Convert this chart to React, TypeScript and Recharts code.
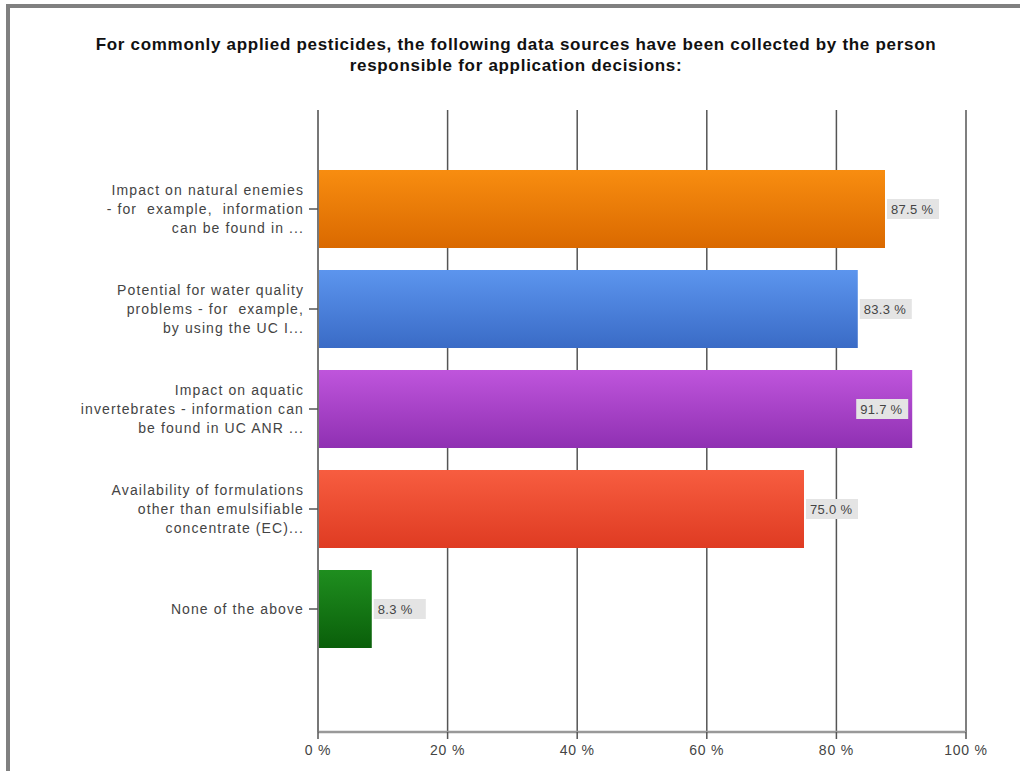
import React from 'react';
import { BarChart, Bar, XAxis, YAxis, CartesianGrid, Cell, LabelList } from 'recharts';

const categories = [
  'Impact on natural enemies - for  example,  information can be found in ...',
  'Potential for water quality problems - for  example, by using the UC I...',
  'Impact on aquatic invertebrates - information can be found in UC ANR ...',
  'Availability of formulations other than emulsifiable concentrate (EC)...',
  'None of the above',
];
const categoryLines = [
  ['Impact on natural enemies', '- for  example,  information', 'can be found in ...'],
  ['Potential for water quality', 'problems - for  example,', 'by using the UC I...'],
  ['Impact on aquatic', 'invertebrates - information can', 'be found in UC ANR ...'],
  ['Availability of formulations', 'other than emulsifiable', 'concentrate (EC)...'],
  ['None of the above'],
];
const values = [87.5, 83.3, 91.7, 75.0, 8.3];
const xTicks = [0, 20, 40, 60, 80, 100];
const titleLines = [
  'For commonly applied pesticides, the following data sources have been collected by the person',
  'responsible for application decisions:',
];

const colorsTop = ['#F88D10', '#5C95EE', '#BF55DC', '#F75D40', '#1F8E1F'];
const colorsBottom = ['#DA6900', '#3A6BC6', '#8F30B2', '#DF3B22', '#0A5F0A'];

const data = categories.map((name, i) => ({ name, value: values[i] }));

const FONT = '"Liberation Sans", Arial, sans-serif';

const CategoryTick = (props: any) => {
  const { x, y, payload } = props;
  const idx = categories.indexOf(payload.value);
  const lines = categoryLines[idx] || [payload.value];
  const lh = 19;
  const start = -((lines.length - 1) * lh) / 2;
  return (
    <text
      x={x - 3}
      y={y}
      textAnchor="end"
      fontFamily={FONT}
      fontSize={14}
      letterSpacing={1.1}
      fill="#444"
      style={{ whiteSpace: 'pre' }}
    >
      {lines.map((l, i) => (
        <tspan key={i} x={x - 3} y={y + start + i * lh} dy="0.35em">
          {l}
        </tspan>
      ))}
    </text>
  );
};

const XTick = (props: any) => {
  const { x, y, payload } = props;
  return (
    <text
      x={x}
      y={y}
      dy="0.71em"
      textAnchor="middle"
      fontFamily={FONT}
      fontSize={14}
      letterSpacing={0.8}
      fill="#444"
    >
      {`${payload.value} %`}
    </text>
  );
};

const ValueLabel = (props: any) => {
  const { x, y, width, height, value } = props;
  const text = `${Number(value).toFixed(1)} %`;
  const boxW = 52;
  const boxH = 20;
  const end = x + width;
  const inside = value >= 90;
  const bx = inside ? end - boxW - 4 : end + 2;
  const cy = y + height / 2;
  return (
    <g>
      <rect x={bx} y={cy - boxH / 2} width={boxW} height={boxH} fill="#E4E4E4" />
      <text
        x={bx + 4}
        y={cy}
        dy="0.35em"
        fontFamily={FONT}
        fontSize={13}
        letterSpacing={0.3}
        fill="#444"
      >
        {text}
      </text>
    </g>
  );
};

export default function App() {
  return (
    <div
      style={{
        position: 'absolute',
        left: 0,
        top: 0,
        width: 1020,
        height: 771,
        background: '#fff',
        overflow: 'hidden',
      }}
    >
      <div
        style={{
          position: 'absolute',
          left: 6,
          top: 4,
          right: 0,
          bottom: 0,
          borderTop: '4px solid #808080',
          borderLeft: '4px solid #808080',
        }}
      />
      <div
        style={{
          position: 'absolute',
          left: 16,
          width: 1000,
          top: 34,
          textAlign: 'center',
          fontFamily: FONT,
          fontWeight: 'bold',
          fontSize: 17,
          letterSpacing: 0.7,
          lineHeight: '21px',
          color: '#111',
        }}
      >
        {titleLines.map((t, i) => (
          <div key={i}>{t}</div>
        ))}
      </div>
      <div style={{ position: 'absolute', left: 0, top: 0 }}>
        <BarChart
          width={1020}
          height={771}
          data={data}
          layout="vertical"
          margin={{ top: 110, right: 54, bottom: 9, left: 0 }}
          barCategoryGap={0}
        >
          <defs>
            {colorsTop.map((c, i) => (
              <linearGradient key={i} id={`grad${i}`} x1="0" y1="0" x2="0" y2="1">
                <stop offset="0%" stopColor={c} />
                <stop offset="100%" stopColor={colorsBottom[i]} />
              </linearGradient>
            ))}
          </defs>
          <CartesianGrid horizontal={false} stroke="#555" strokeWidth={1.5} />
          <XAxis
            type="number"
            domain={[0, 100]}
            ticks={xTicks}
            axisLine={{ stroke: '#999', strokeWidth: 2.5 }}
            tickLine={{ stroke: '#555', strokeWidth: 1.5 }}
            tickSize={7}
            tickMargin={6}
            tick={<XTick />}
            height={30}
          />
          <YAxis
            type="category"
            dataKey="name"
            width={318}
            padding={{ top: 49, bottom: 73 }}
            axisLine={{ stroke: '#777', strokeWidth: 2 }}
            tickLine={{ stroke: '#555', strokeWidth: 1.5 }}
            tickSize={9}
            tick={<CategoryTick />}
            interval={0}
          />
          <Bar dataKey="value" barSize={78} isAnimationActive={false}>
            {data.map((_, i) => (
              <Cell key={i} fill={`url(#grad${i})`} />
            ))}
            <LabelList dataKey="value" content={<ValueLabel />} />
          </Bar>
        </BarChart>
      </div>
    </div>
  );
}
